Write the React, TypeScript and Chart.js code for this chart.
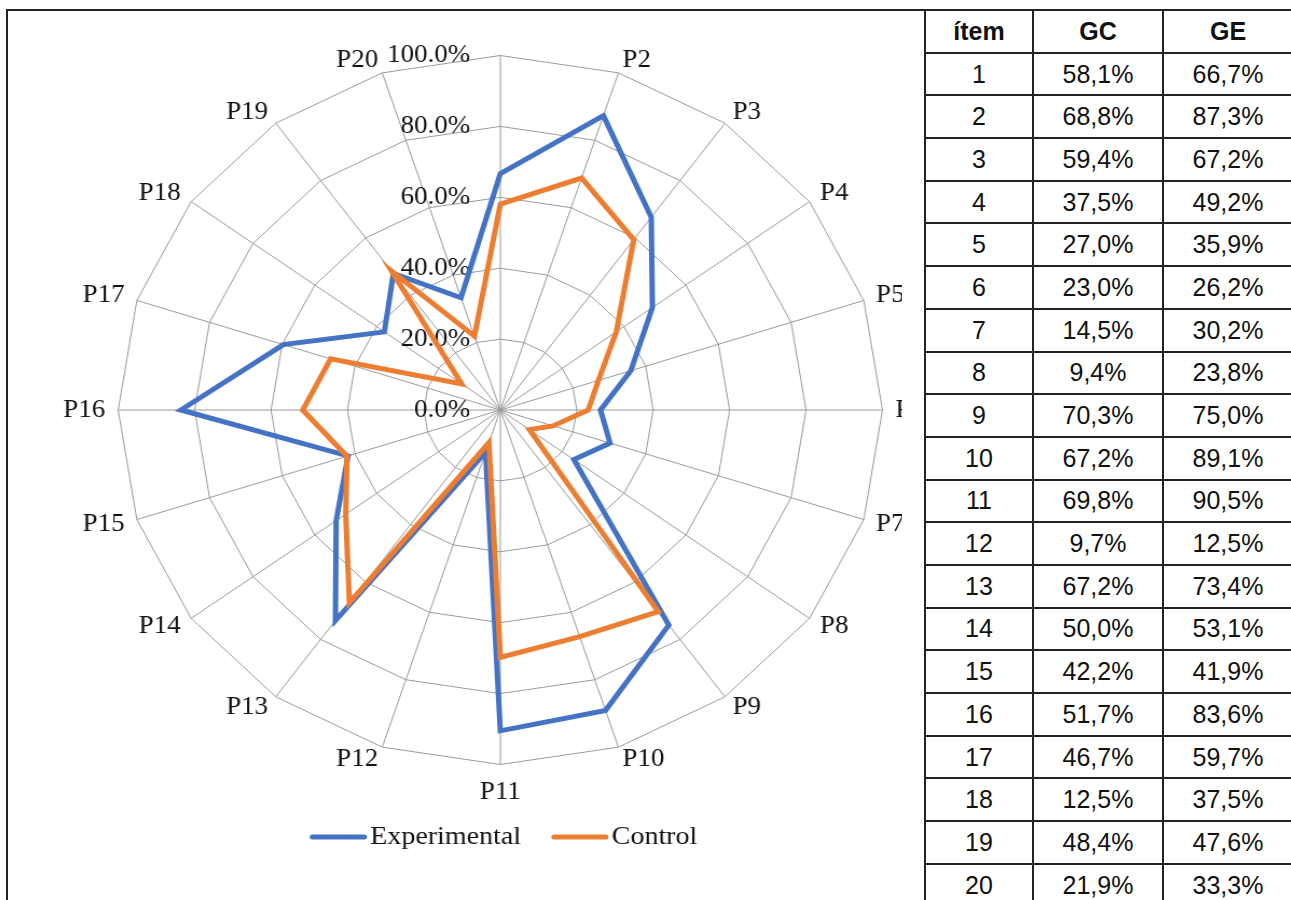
import React, { useEffect, useRef } from 'react';
import { Chart, registerables } from 'chart.js';

Chart.register(...registerables);

const categories = ['P1', 'P2', 'P3', 'P4', 'P5', 'P6', 'P7', 'P8', 'P9', 'P10', 'P11', 'P12', 'P13', 'P14', 'P15', 'P16', 'P17', 'P18', 'P19', 'P20'];
const experimental = [66.7, 87.3, 67.2, 49.2, 35.9, 26.2, 30.2, 23.8, 75.0, 89.1, 90.5, 12.5, 73.4, 53.1, 41.9, 83.6, 59.7, 37.5, 47.6, 33.3];
const control = [58.1, 68.8, 59.4, 37.5, 27.0, 23.0, 14.5, 9.4, 70.3, 67.2, 69.8, 9.7, 67.2, 50.0, 42.2, 51.7, 46.7, 12.5, 48.4, 21.9];
const tableHeaders = ['ítem', 'GC', 'GE'];
const seriesNames = ['Experimental', 'Control'];
const seriesColors = ['#4472C4', '#ED7D31'];

const STRETCH = 1.078;
const SERIF = '"Liberation Serif", "Times New Roman", serif';
const SANS = '"Liberation Sans", Arial, sans-serif';
const LINE = '#222';

const fmtComma = (v: number) => `${v.toFixed(1).replace('.', ',')}%`;

const tickLabelPlugin = {
  id: 'tickLabels',
  beforeDatasetsDraw(chart: any) {
    const scale = chart.scales.r;
    const ctx = chart.ctx;
    ctx.save();
    ctx.font = `25px ${SERIF}`;
    ctx.fillStyle = '#111';
    ctx.textAlign = 'right';
    ctx.textBaseline = 'middle';
    scale.ticks.forEach((t: any) => {
      const d = scale.getDistanceFromCenterForValue(t.value);
      ctx.fillText(`${Number(t.value).toFixed(1)}%`, scale.xCenter - 28, scale.yCenter - d);
    });
    ctx.restore();
  },
};

const lineLegendPlugin = {
  id: 'lineLegend',
  afterDraw(chart: any) {
    const ctx = chart.ctx;
    const scale = chart.scales.r;
    ctx.save();
    ctx.font = `26px ${SERIF}`;
    const items = chart.data.datasets.map((ds: any) => ({
      label: ds.label,
      color: ds.borderColor,
      w: ctx.measureText(ds.label).width,
    }));
    const sw = 53;
    const gap = 3;
    const spacing = 28;
    const total = items.reduce((s: number, it: any) => s + sw + gap + it.w, 0) + spacing * (items.length - 1);
    let x = scale.xCenter - total / 2 + 3;
    const y = chart.chartArea.bottom + 36;
    items.forEach((it: any) => {
      ctx.strokeStyle = it.color;
      ctx.lineWidth = 5;
      ctx.lineCap = 'round';
      ctx.beginPath();
      ctx.moveTo(x + 2.5, y);
      ctx.lineTo(x + sw - 2.5, y);
      ctx.stroke();
      x += sw + gap;
      ctx.fillStyle = '#111';
      ctx.textAlign = 'left';
      ctx.textBaseline = 'middle';
      ctx.fillText(it.label, x, y);
      x += it.w + spacing;
    });
    ctx.restore();
  },
};

export default function App() {
  const canvasRef = useRef<HTMLCanvasElement>(null);

  useEffect(() => {
    const chart = new Chart(canvasRef.current as HTMLCanvasElement, {
      type: 'radar',
      data: {
        labels: categories,
        datasets: [
          {
            label: seriesNames[0],
            data: experimental,
            borderColor: seriesColors[0],
            backgroundColor: 'transparent',
            borderWidth: 5,
            pointRadius: 0,
            fill: false,
            order: 1,
          },
          {
            label: seriesNames[1],
            data: control,
            borderColor: seriesColors[1],
            backgroundColor: 'transparent',
            borderWidth: 5,
            pointRadius: 0,
            fill: false,
            order: 0,
          },
        ],
      },
      options: {
        responsive: false,
        animation: false,
        layout: { padding: { top: 34, bottom: 99, left: 0, right: 0 } },
        plugins: { legend: { display: false }, tooltip: { enabled: false } },
        elements: { line: { tension: 0, borderJoinStyle: 'miter' } },
        scales: {
          r: {
            min: 0,
            max: 100,
            ticks: { display: false, stepSize: 20 },
            grid: { color: '#9a9a9a', lineWidth: 1 },
            angleLines: { color: '#9a9a9a', lineWidth: 1 },
            pointLabels: {
              display: true,
              callback: (label: string, index: number) => (index === 0 ? '' : label),
              font: { family: SERIF, size: 25, lineHeight: 0.1 },
              color: '#111',
              padding: (ctx: any) => (ctx.index === 10 ? 27 : 12),
            },
          },
        },
      } as any,
      plugins: [tickLabelPlugin, lineLegendPlugin],
    });
    return () => chart.destroy();
  }, []);

  const cellBase: React.CSSProperties = {
    borderLeft: `2px solid ${LINE}`,
    borderTop: `2px solid ${LINE}`,
    boxSizing: 'border-box',
    display: 'flex',
    alignItems: 'center',
    justifyContent: 'center',
    fontFamily: SANS,
    fontSize: 25,
    color: '#111',
  };

  return (
    <div style={{ position: 'absolute', left: 0, top: 0, width: 1291, height: 900, overflow: 'hidden', background: '#fff' }}>
      <div style={{ position: 'absolute', left: 6, top: 9, width: 1285, height: 2, background: LINE }} />
      <div style={{ position: 'absolute', left: 6, top: 9, width: 2, height: 891, background: LINE }} />
      <div style={{ position: 'absolute', left: 8, top: 11, width: 894, height: 889, overflow: 'hidden' }}>
        <div
          style={{
            position: 'absolute',
            left: 17.7,
            top: -11,
            width: 880,
            height: 900,
            transform: `scaleX(${STRETCH})`,
            transformOrigin: '0 0',
          }}
        >
          <canvas ref={canvasRef} width={880} height={900} />
        </div>
      </div>
      <div
        style={{
          position: 'absolute',
          left: 924,
          top: 9,
          display: 'grid',
          gridTemplateColumns: '108px 130px 130px',
          gridTemplateRows: 'repeat(21, 42.7px)',
        }}
      >
        {tableHeaders.map((h) => (
          <div key={h} style={{ ...cellBase, fontWeight: 'bold' }}>
            {h}
          </div>
        ))}
        {categories.map((_, i) => (
          <React.Fragment key={i}>
            <div style={cellBase}>{i + 1}</div>
            <div style={cellBase}>{fmtComma(control[i])}</div>
            <div style={cellBase}>{fmtComma(experimental[i])}</div>
          </React.Fragment>
        ))}
      </div>
    </div>
  );
}
